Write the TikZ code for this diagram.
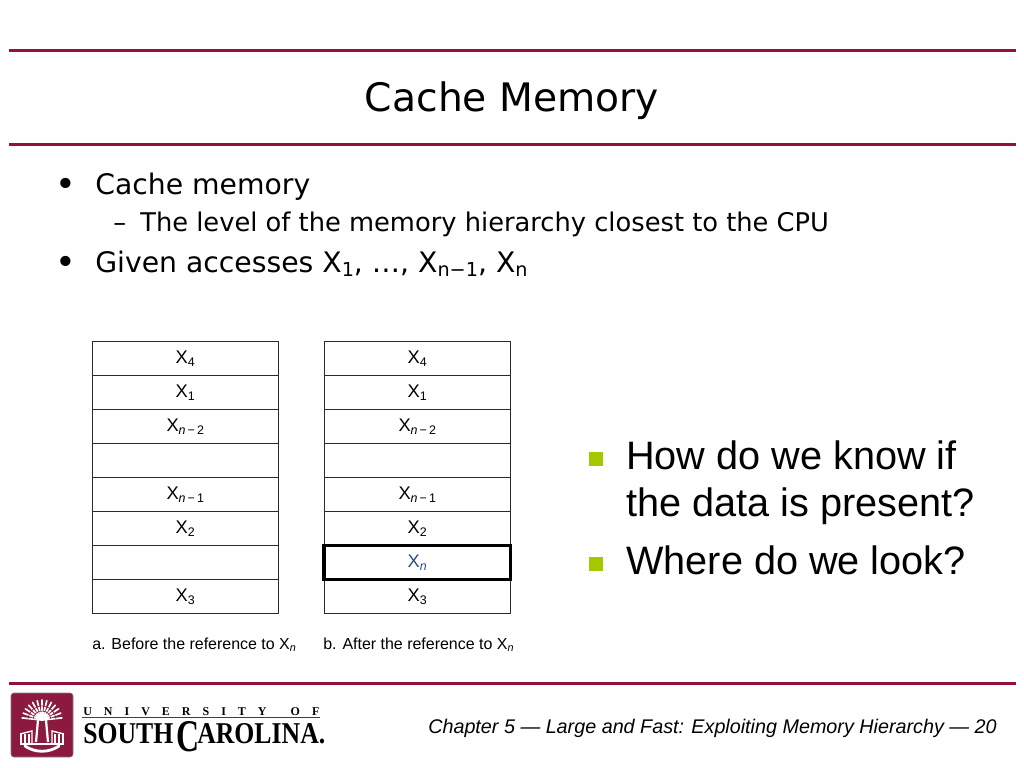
\documentclass[tikz,border=0pt]{standalone}
\usepackage{fontspec}
\setmainfont{DejaVu Sans}
\newfontfamily\arialfont{Liberation Sans}
\newfontfamily\logofont{Liberation Serif}
\usepackage{xcolor}
\usepackage{graphicx}
\usetikzlibrary{positioning}
\definecolor{garnet}{HTML}{960F42}
\definecolor{crest}{HTML}{8C1A3E}
\definecolor{limebullet}{HTML}{A4C800}
\definecolor{cellline}{HTML}{2A2A2A}
\definecolor{xnblue}{HTML}{2F4A8C}
\newcommand{\lowsub}[1]{\raisebox{-0.32ex}{\scalebox{0.68}{#1}}}
\newcommand{\xsub}[1]{X\lowsub{#1}}
\newcommand{\pxfont}[1]{\fontsize{#1}{#1}\selectfont}

\begin{document}
\begin{tikzpicture}[
  x=0.025cm, y=-0.025cm,
  rule/.style={draw=garnet, line width=0.075cm},
  cell/.style={draw=cellline, line width=0.025cm, minimum width=4.66cm, minimum height=0.85cm,
               inner sep=0pt, outer sep=0pt, font=\arialfont\pxfont{13}},
  hotcell/.style={cell, draw=black, line width=0.08cm, text=xnblue},
  caption/.style={anchor=base west, inner sep=0pt, font=\arialfont\pxfont{11.35}},
  bodytext/.style={anchor=base west, inner sep=0pt, font=\pxfont{20.1}},
  subtext/.style={anchor=base west, inner sep=0pt, font=\pxfont{18.3}},
  dottext/.style={anchor=base west, inner sep=0pt, font=\pxfont{25}},
  asktext/.style={anchor=base west, inner sep=0pt, font=\arialfont\pxfont{28.2}},
  greensq/.style={fill=limebullet, inner sep=0pt, minimum size=0.35cm},
  logoword/.style={anchor=south west, inner sep=0pt, font=\logofont\bfseries\pxfont{20}},
]
  \useasboundingbox (0,0) rectangle (1024,768);

  % Rules
  \draw[rule] (9,51) -- (1016,51);
  \draw[rule] (9,145) -- (1016,145);
  \draw[rule] (9,683) -- (1016,683);

  % Title
  \node[anchor=base, inner sep=0pt, font=\pxfont{27.9}] (title) at (512,112) {Cache Memory};

  % Bullets
  \node[dottext] (dotone) at (55,196) {•};
  \node[bodytext] (cachemem) at (95,194) {Cache memory};
  \node[subtext] (dash) at (113,231) {–};
  \node[subtext] (level) at (140,231) {The level of the memory hierarchy closest to the CPU};
  \node[dottext] (dottwo) at (55,274) {•};
  \node[bodytext] (given) at (95,272) {Given accesses \xsub{1}, …, \xsub{n−1}, \xsub{n}};

  % Before
  \node[cell, anchor=north west] (a4) at (92,341.5) {\xsub{4}};
  \node[cell, below=0pt of a4] (a1) {\xsub{1}};
  \node[cell, below=0pt of a1] (an2) {\xsub{\itshape n\,\upshape −\,2}};
  \node[cell, below=0pt of an2] (aempty) {};
  \node[cell, below=0pt of aempty] (an1) {\xsub{\itshape n\,\upshape −\,1}};
  \node[cell, below=0pt of an1] (a2) {\xsub{2}};
  \node[cell, below=0pt of a2] (agap) {};
  \node[cell, below=0pt of agap] (a3) {\xsub{3}};

  % After
  \node[cell, anchor=north west] (b4) at (324,341.5) {\xsub{4}};
  \node[cell, below=0pt of b4] (b1) {\xsub{1}};
  \node[cell, below=0pt of b1] (bn2) {\xsub{\itshape n\,\upshape −\,2}};
  \node[cell, below=0pt of bn2] (bempty) {};
  \node[cell, below=0pt of bempty] (bn1) {\xsub{\itshape n\,\upshape −\,1}};
  \node[cell, below=0pt of bn1] (b2) {\xsub{2}};
  \node[cell, below=0.85cm of b2] (b3) {\xsub{3}};
  \node[hotcell, below=0pt of b2] (bn) {\xsub{\itshape n}};

  % Captions
  \node[caption] (capa) at (92,649) {a. Before the reference to \xsub{\itshape n}};
  \node[caption] (capb) at (323,649) {b. After the reference to \xsub{\itshape n}};

  % Questions
  \node[greensq] (sqone) at (596,459) {};
  \node[asktext] (askone) at (626,469) {How do we know if};
  \node[asktext] (asktwo) at (626,516) {the data is present?};
  \node[greensq] (sqtwo) at (596,564) {};
  \node[asktext] (askthree) at (626,574) {Where do we look?};

  % Footer
  \node[anchor=base east, inner sep=0pt, font=\arialfont\itshape\pxfont{14.05}] (footer) at (997,733)
       {Chapter 5 — Large and Fast: Exploiting Memory Hierarchy — 20};

  % Logo crest
  \fill[crest, draw=gray, rounded corners=2pt] (11,693) rectangle (73,757);
  \foreach \a in {-84,-70,...,84}
    \draw[white, line width=1.2pt, line cap=round] (42,720) -- ++(-90+\a:20);
  \foreach \r in {9,14}
    \draw[crest, line width=0.5pt] (42,720) ++(-174:\r) arc[start angle=-174, end angle=-6, radius=\r];
  \draw[white, line width=1.6pt] (38,720) -- (36,742);
  \draw[white, line width=1.6pt] (46,720) -- (48,742);
  \foreach \i in {21,25,29,55,59,63}
    \draw[white, line width=0.9pt] (\i,734) -- (\i,744);
  \draw[white, line width=1pt] (20,734) -- (32,731) -- (32,744) (52,744) -- (52,731) -- (64,734);
  \draw[white, line width=1.3pt] (20,744) -- (64,744);
  \draw[white, line width=2pt, line cap=round] (25,746) .. controls (35,753) and (49,753) .. (59,746);

  % Logo wordmark
  \node[anchor=base west, inner sep=0pt, text width=5.9cm, font=\logofont\bfseries\pxfont{8.5}] (univ) at (83,715)
       {U\hfill N\hfill I\hfill V\hfill E\hfill R\hfill S\hfill I\hfill T\hfill Y\hfill\hfill O\hfill F};
  \draw[crest, line width=0.025cm] (82,717) -- (320,717);
  \node[logoword] (south) at (83,744) {\resizebox{2.25cm}{0.5cm}{SOUTH}};
  \node[logoword] (bigc) at (176,752) {\resizebox{0.575cm}{0.75cm}{C}};
  \node[logoword] (carolina) at (197,744) {\resizebox{3.2cm}{0.5cm}{AROLINA.}};
\end{tikzpicture}
\end{document}
